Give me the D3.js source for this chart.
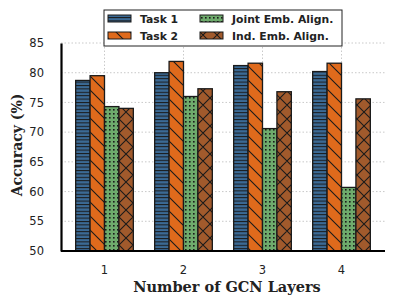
<html>
<script src="https://d3js.org/d3.v7.min.js"></script>
<style>
body { margin: 0; background: #fff; }
text { font-family: "DejaVu Sans", sans-serif; }
</style>
<body>
<svg width="395" height="306"></svg>
<script>
const layers = ['1', '2', '3', '4'];
const seriesNames = ['Task 1', 'Task 2', 'Joint Emb. Align.', 'Ind. Emb. Align.'];
const task1 = [78.7, 80.0, 81.2, 80.2];
const task2 = [79.5, 81.9, 81.6, 81.6];
const joint = [74.3, 76.0, 70.6, 60.7];
const ind = [74.0, 77.3, 76.8, 75.6];
const yTicks = [50, 55, 60, 65, 70, 75, 80, 85];

const series = [task1, task2, joint, ind];
const colors = ['#3b6a95', '#df6a1c', '#6eab6c', '#a15a2c'];
const pats = ['p0', 'p1', 'p2', 'p3'];

const svg = d3.select('svg');
const defs = svg.append('defs');

// hatch patterns
let p = defs.append('pattern').attr('id', 'p0').attr('patternUnits', 'userSpaceOnUse').attr('width', 6).attr('height', 3.4);
p.append('rect').attr('width', 6).attr('height', 3.4).attr('fill', colors[0]);
p.append('line').attr('x1', 0).attr('x2', 6).attr('y1', 0.5).attr('y2', 0.5).attr('stroke', '#1a1a1a').attr('stroke-width', 1);

p = defs.append('pattern').attr('id', 'p1').attr('patternUnits', 'userSpaceOnUse').attr('width', 14).attr('height', 14);
p.append('rect').attr('width', 14).attr('height', 14).attr('fill', colors[1]);
p.append('path').attr('d', 'M0,0L14,14M-7,7L7,21M7,-7L21,7').attr('stroke', '#1a1a1a').attr('stroke-width', 1.1);

p = defs.append('pattern').attr('id', 'p2').attr('patternUnits', 'userSpaceOnUse').attr('width', 4).attr('height', 4);
p.append('rect').attr('width', 4).attr('height', 4).attr('fill', colors[2]);
p.append('rect').attr('x', 1).attr('y', 1).attr('width', 1.6).attr('height', 1.6).attr('fill', '#1a1a1a');

p = defs.append('pattern').attr('id', 'p3').attr('patternUnits', 'userSpaceOnUse').attr('width', 14).attr('height', 14);
p.append('rect').attr('width', 14).attr('height', 14).attr('fill', colors[3]);
p.append('path').attr('d', 'M0,0L14,14M-7,7L7,21M7,-7L21,7M14,0L0,14M21,7L7,21M7,-7L-7,7').attr('stroke', '#1a1a1a').attr('stroke-width', 1.1);

const mL = 61, mR = 385, mT = 43, mB = 251;

const x = d3.scaleBand().domain(layers).range([mL + 4, mR - 4]).paddingInner(0.27).paddingOuter(0.135);
const xs = d3.scaleBand().domain(d3.range(4)).range([0, x.bandwidth()]);
const y = d3.scaleLinear().domain([50, 85]).range([mB, mT]);

// grid
const grid = svg.append('g');
grid.selectAll('.hg').data(yTicks.slice(1)).join('line')
  .attr('x1', mL).attr('x2', mR)
  .attr('y1', d => y(d)).attr('y2', d => y(d))
  .attr('stroke', '#bbb').attr('stroke-width', 0.8).attr('stroke-dasharray', '1.5,2');
grid.selectAll('.vg').data(layers).join('line')
  .attr('x1', d => x(d) + x.bandwidth() / 2).attr('x2', d => x(d) + x.bandwidth() / 2)
  .attr('y1', mT - 3).attr('y2', mB)
  .attr('stroke', '#bbb').attr('stroke-width', 0.8).attr('stroke-dasharray', '1.5,2');

// bars
series.forEach((vals, i) => {
  svg.append('g').selectAll('rect').data(vals).join('rect')
    .attr('x', (d, j) => x(layers[j]) + xs(i))
    .attr('width', xs.bandwidth())
    .attr('y', d => y(d))
    .attr('height', d => y(50) - y(d))
    .attr('fill', `url(#${pats[i]})`)
    .attr('stroke', '#1a1a1a').attr('stroke-width', 1.3);
});

// axes
const ya = svg.append('g').attr('transform', `translate(${mL},0)`)
  .call(d3.axisLeft(y).tickValues(yTicks).tickSize(0).tickPadding(17));
ya.select('.domain').attr('stroke', '#000').attr('stroke-width', 2.2);
ya.selectAll('text').attr('font-size', 11.5).attr('fill', '#222');

const xa = svg.append('g').attr('transform', `translate(0,${mB})`)
  .call(d3.axisBottom(x).tickSize(0).tickPadding(15));
xa.select('.domain').attr('stroke', '#000').attr('stroke-width', 2.2).attr('d', `M${mL},0H${mR}`);
xa.selectAll('text').attr('font-size', 11.5).attr('fill', '#222');

svg.append('text').attr('x', 227).attr('y', 292).attr('text-anchor', 'middle')
  .style('font-family', '"DejaVu Serif", serif').style('font-weight', 'bold').style('font-size', '14.5px')
  .attr('fill', '#222').text('Number of GCN Layers');
svg.append('text').attr('transform', 'translate(21.5,145) rotate(-90)').attr('text-anchor', 'middle')
  .style('font-family', '"DejaVu Serif", serif').style('font-weight', 'bold').style('font-size', '14px')
  .attr('fill', '#222').text('Accuracy (%)');

// legend
const lg = svg.append('g');
lg.append('rect').attr('x', 104).attr('y', 10).attr('width', 238).attr('height', 36)
  .attr('fill', '#fff').attr('stroke', '#222').attr('stroke-width', 1);
const lpos = [[108, 18.5], [108, 35.5], [200, 18.5], [200, 35.5]];
seriesNames.forEach((n, i) => {
  lg.append('rect').attr('x', lpos[i][0]).attr('y', lpos[i][1] - 3.5).attr('width', 23).attr('height', 7)
    .attr('fill', `url(#${pats[i]})`).attr('stroke', '#1a1a1a').attr('stroke-width', 1);
  lg.append('text').attr('x', lpos[i][0] + 32).attr('y', lpos[i][1] + 4)
    .style('font-weight', 'bold').style('font-size', '10.8px').attr('fill', '#222').text(n);
});
</script>
</body>
</html>
